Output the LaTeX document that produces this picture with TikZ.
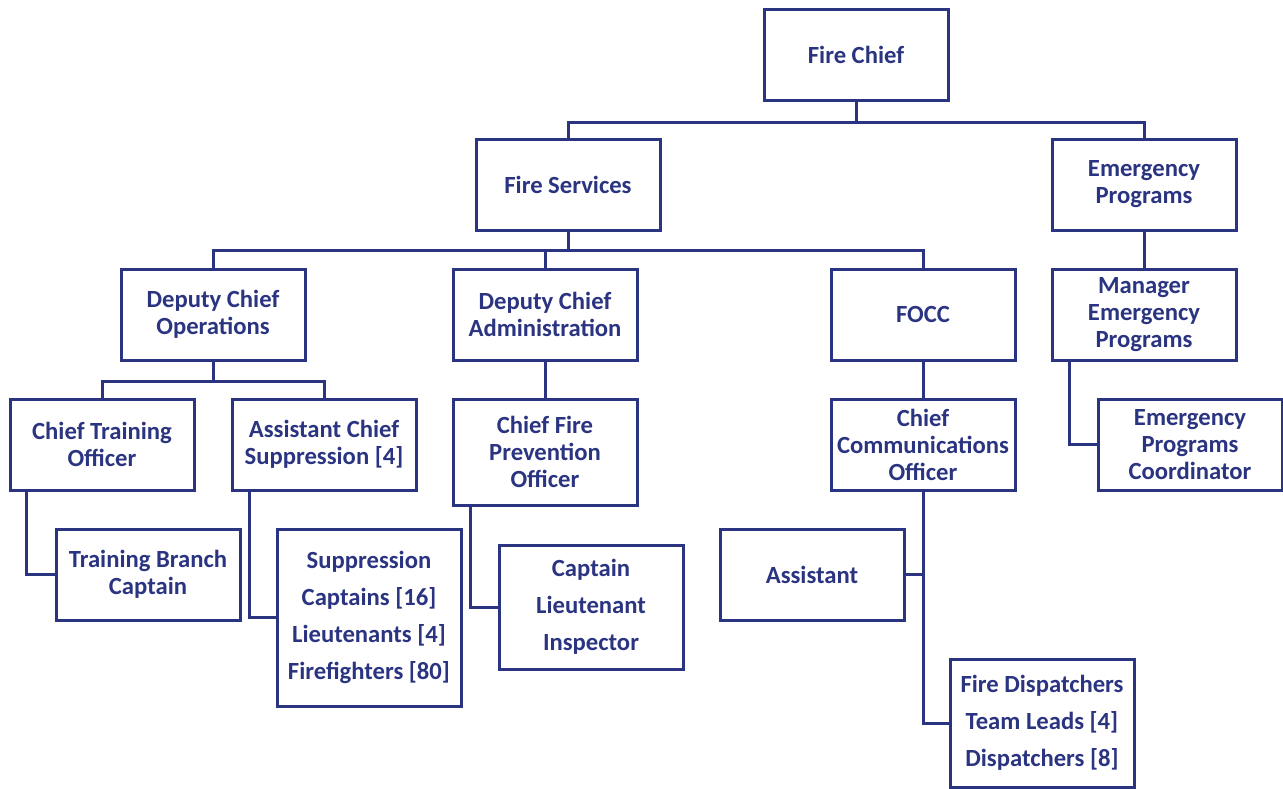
\documentclass[tikz,border=0pt]{standalone}
\usepackage{fontspec}
\setmainfont{Carlito}
\usetikzlibrary{positioning,calc}
\definecolor{navy}{RGB}{42,52,128}

\begin{document}
\begin{tikzpicture}[x=0.75pt,y=-0.75pt,
  box/.style={draw=navy,line width=2.25pt,text=navy,align=center,inner sep=0pt,
    minimum width=138pt,minimum height=68.25pt,font=\fontsize{18.5}{20.25}\selectfont\bfseries},
  list/.style={box,font=\fontsize{18.5}{27.75}\selectfont\bfseries},
  link/.style={draw=navy,line width=2.25pt}]
  \useasboundingbox (0,0) rectangle (1283,789);
  % top levels
  \node[box] (chief) at (856,55) {Fire Chief};
  \node[box] (services) at (568,184.5) {Fire Services};
  \node[box] (emerg) at (1144,184.5) {Emergency\\Programs};
  \node[box] (dco) at (213,314.5) {Deputy Chief\\Operations};
  \node[box] (dca) at (545,314.5) {Deputy Chief\\Administration};
  \node[box] (focc) at (923,314.5) {FOCC};
  \node[box] (mep) at (1144,314.5) {Manager\\Emergency\\Programs};
  % third row
  \node[box] (cto) at (102,444.5) {Chief Training\\Officer};
  \node[box] (acs) at (324,444.5) {Assistant Chief\\Suppression [4]};
  \node[box,minimum height=79.5pt] (cfpo) at (545,452) {Chief Fire\\Prevention\\Officer};
  \node[box] (cco) at (923,444.5) {Chief\\Communications\\Officer};
  \node[box] (epc) at (1190,444.5) {Emergency\\Programs\\Coordinator};
  % bottom
  \node[box] (tbc) at (148,574.5) {Training Branch\\Captain};
  \node[list,minimum height=132.75pt] (supp) at (369,617.5) {Suppression\\Captains [16]\\Lieutenants [4]\\Firefighters [80]};
  \node[list,minimum height=93pt] (capt) at (591,607) {Captain\\Lieutenant\\Inspector};
  \node[box] (assist) at (812,574.5) {Assistant};
  \node[list,minimum height=96pt] (disp) at (1042,723) {Fire Dispatchers\\Team Leads [4]\\Dispatchers [8]};
  % connectors
  \draw[link] (chief.south) -- ++(0,20) -| (services.north);
  \draw[link] (chief.south) -- ++(0,20) -| (emerg.north);
  \draw[link] (services.south) -- ++(0,19) -| (dco.north);
  \draw[link] (services.south) -- ++(0,19) -| (dca.north);
  \draw[link] (services.south) -- ++(0,19) -| (focc.north);
  \draw[link] (emerg.south) -- (mep.north);
  \draw[link] (dco.south) -- ++(0,20) -| (cto.north);
  \draw[link] (dco.south) -- ++(0,20) -| (acs.north);
  \draw[link] (dca.south) -- (cfpo.north);
  \draw[link] (focc.south) -- (cco.north);
  \draw[link] ([xshift=13.5pt]cto.south west) |- (tbc.west);
  \draw[link] ([xshift=14.25pt]acs.south west) |- (supp.west);
  \draw[link] ([xshift=14.25pt]cfpo.south west) |- (capt.west);
  \draw[link] ([xshift=14.25pt]mep.south west) |- (epc.west);
  \draw[link] (cco.south) |- (disp.west);
  \draw[link] (assist.east) -- (assist.east -| cco.south);
\end{tikzpicture}
\end{document}
